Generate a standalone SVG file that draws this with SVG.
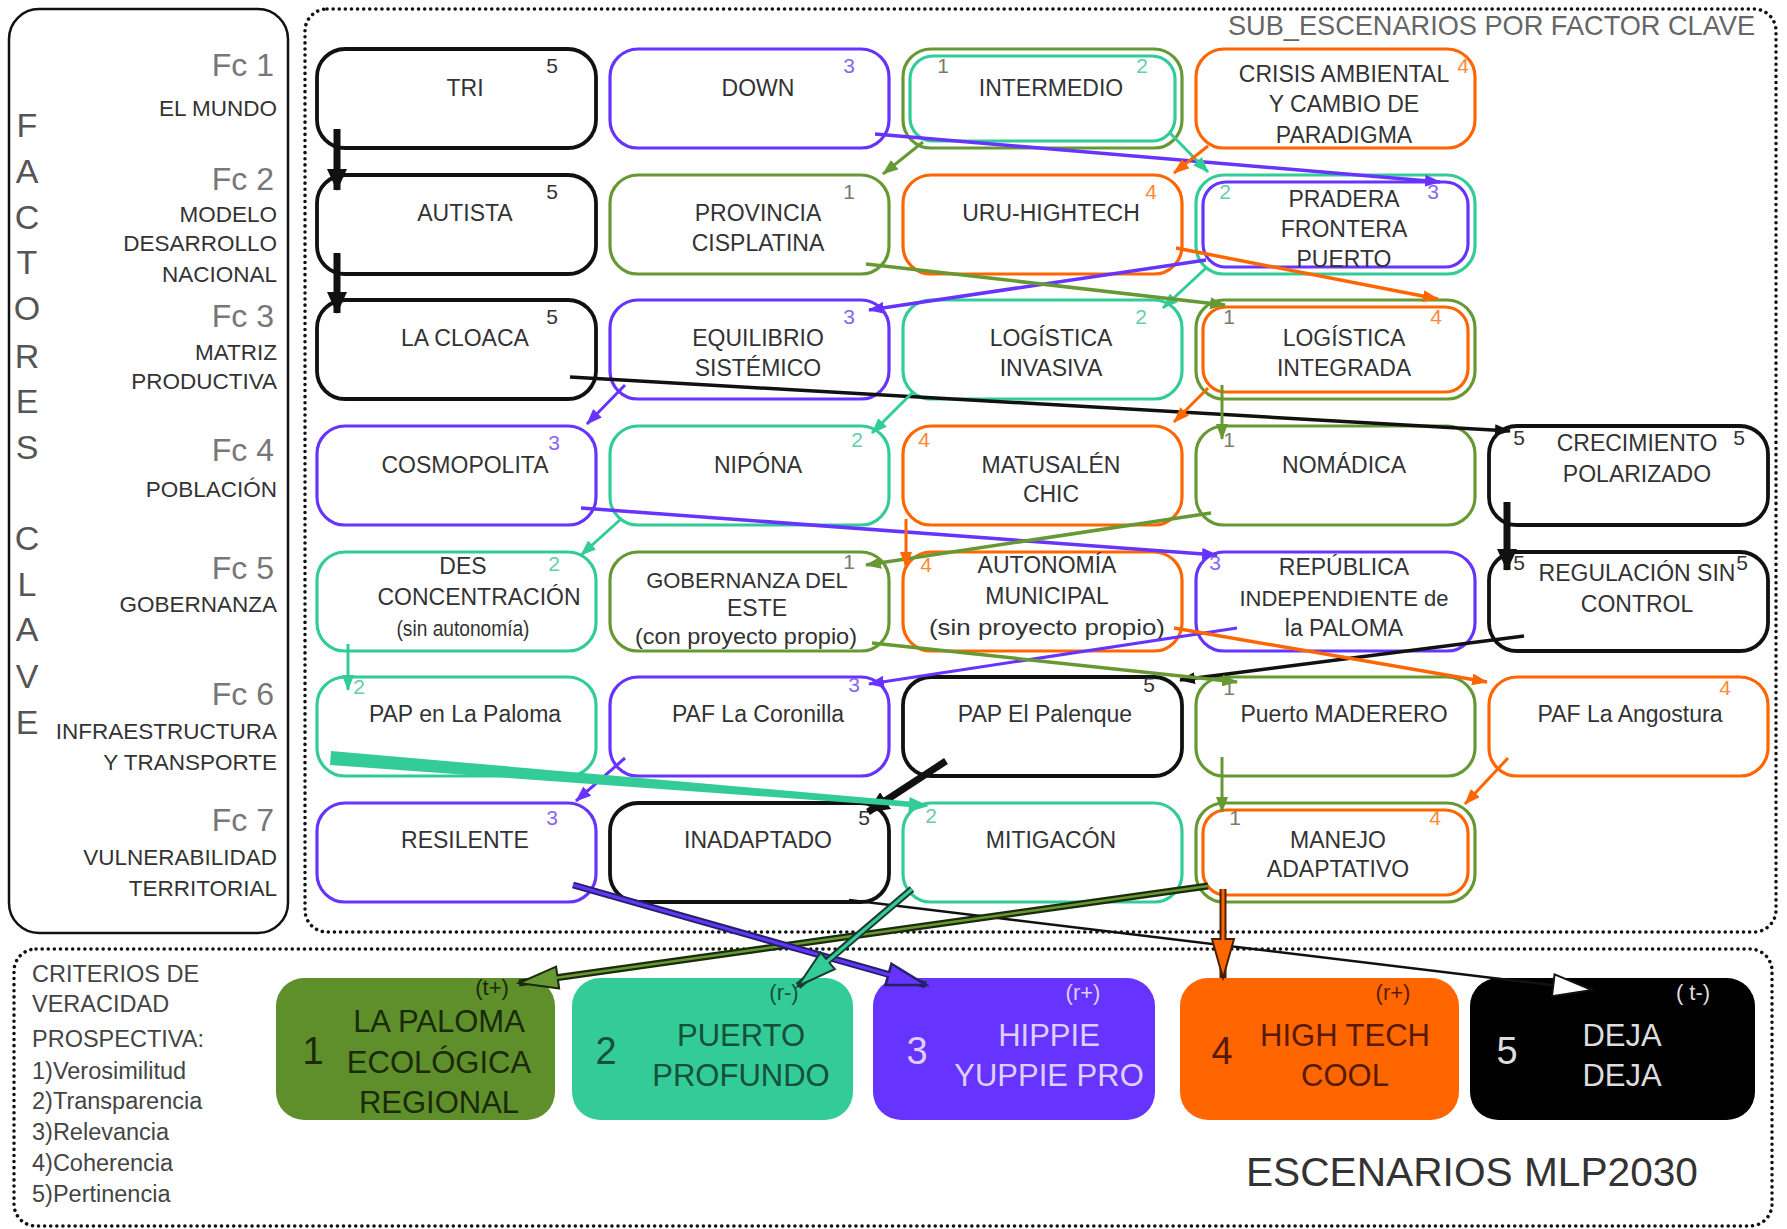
<svg xmlns="http://www.w3.org/2000/svg" width="1787" height="1229" viewBox="0 0 1787 1229">
<style>
text{font-family:"Liberation Sans","DejaVu Sans",sans-serif;fill:#333}
.bx{fill:#fff;stroke-width:3.2}
.k{stroke:#111;stroke-width:3.8}
.p{stroke:#6633ff}
.t{stroke:#33cc99}
.g{stroke:#669933}
.o{stroke:#ff6600}
.lbl{font-size:23px;text-anchor:middle}
.l22{font-size:22px}
.sm{font-size:22px;text-anchor:middle}
.n{font-size:21px;text-anchor:middle}
.nk{fill:#333}.np{fill:#8866ee}.nt{fill:#66ccb0}.ng{fill:#7a7a6a}.no{fill:#ff8833}
.fc{font-size:32px;text-anchor:end;fill:#777}
.fn{font-size:22.5px;text-anchor:end;fill:#333}
.vl{font-size:34px;text-anchor:middle;fill:#555}
.dot{fill:none;stroke:#111;stroke-width:3.5;stroke-dasharray:0.1 6;stroke-linecap:round}
.sc{font-size:31px;text-anchor:middle}
.sn{font-size:38px;text-anchor:middle}
.st{font-size:22px;text-anchor:middle}
.cr{font-size:23.5px;fill:#444}
</style>
<defs>
<marker id="ak" markerUnits="userSpaceOnUse" markerWidth="16" markerHeight="12" refX="15" refY="6" orient="auto"><path d="M0,0 L16,6 L0,12 z" fill="#111"/></marker>
<marker id="akb" markerUnits="userSpaceOnUse" markerWidth="22" markerHeight="20" refX="21" refY="10" orient="auto"><path d="M0,0 L22,10 L0,20 z" fill="#111"/></marker>
<marker id="ap" markerUnits="userSpaceOnUse" markerWidth="16" markerHeight="12" refX="15" refY="6" orient="auto"><path d="M0,0 L16,6 L0,12 z" fill="#6633ff"/></marker>
<marker id="at" markerUnits="userSpaceOnUse" markerWidth="16" markerHeight="12" refX="15" refY="6" orient="auto"><path d="M0,0 L16,6 L0,12 z" fill="#33cc99"/></marker>
<marker id="ag" markerUnits="userSpaceOnUse" markerWidth="16" markerHeight="12" refX="15" refY="6" orient="auto"><path d="M0,0 L16,6 L0,12 z" fill="#669933"/></marker>
<marker id="ao" markerUnits="userSpaceOnUse" markerWidth="16" markerHeight="12" refX="15" refY="6" orient="auto"><path d="M0,0 L16,6 L0,12 z" fill="#ff6600"/></marker>
<marker id="okk" markerUnits="userSpaceOnUse" markerWidth="44" markerHeight="26" refX="41" refY="13" orient="auto"><path d="M2,2 L41,13 L2,24 z" fill="#fff" stroke="#111" stroke-width="2"/></marker>
<marker id="okg" markerUnits="userSpaceOnUse" markerWidth="44" markerHeight="26" refX="41" refY="13" orient="auto"><path d="M2,2 L41,13 L2,24 z" fill="#669933" stroke="#1a2a0a" stroke-width="2"/></marker>
<marker id="okp" markerUnits="userSpaceOnUse" markerWidth="44" markerHeight="26" refX="41" refY="13" orient="auto"><path d="M2,2 L41,13 L2,24 z" fill="#6633ff" stroke="#222266" stroke-width="2.5"/></marker>
<marker id="okt" markerUnits="userSpaceOnUse" markerWidth="44" markerHeight="26" refX="41" refY="13" orient="auto"><path d="M2,2 L41,13 L2,24 z" fill="#33cc99" stroke="#1a3a30" stroke-width="2"/></marker>
<marker id="oko" markerUnits="userSpaceOnUse" markerWidth="44" markerHeight="26" refX="41" refY="13" orient="auto"><path d="M2,2 L41,13 L2,24 z" fill="#ff6600" stroke="#4a2000" stroke-width="2"/></marker>
</defs>
<rect width="1787" height="1229" fill="#fff"/>

<!-- frames -->
<g id="frame-left">
<rect x="9" y="9" width="279" height="924" rx="30" fill="none" stroke="#111" stroke-width="2.5"/>
<text class="vl" x="27" y="137">F</text>
<text class="vl" x="27" y="183">A</text>
<text class="vl" x="27" y="229">C</text>
<text class="vl" x="27" y="274">T</text>
<text class="vl" x="27" y="320">O</text>
<text class="vl" x="27" y="368">R</text>
<text class="vl" x="27" y="413">E</text>
<text class="vl" x="27" y="459">S</text>
<text class="vl" x="27" y="550">C</text>
<text class="vl" x="27" y="596">L</text>
<text class="vl" x="27" y="641">A</text>
<text class="vl" x="27" y="688">V</text>
<text class="vl" x="27" y="734">E</text>
<text class="fc" x="274" y="76">Fc 1</text>
<text class="fn" x="277" y="116">EL MUNDO</text>
<text class="fc" x="274" y="190">Fc 2</text>
<text class="fn" x="277" y="222">MODELO</text>
<text class="fn" x="277" y="251">DESARROLLO</text>
<text class="fn" x="277" y="282">NACIONAL</text>
<text class="fc" x="274" y="327">Fc 3</text>
<text class="fn" x="277" y="360">MATRIZ</text>
<text class="fn" x="277" y="389">PRODUCTIVA</text>
<text class="fc" x="274" y="461">Fc 4</text>
<text class="fn" x="277" y="497">POBLACIÓN</text>
<text class="fc" x="274" y="579">Fc 5</text>
<text class="fn" x="277" y="612">GOBERNANZA</text>
<text class="fc" x="274" y="705">Fc 6</text>
<text class="fn" x="277" y="739">INFRAESTRUCTURA</text>
<text class="fn" x="277" y="770">Y TRANSPORTE</text>
<text class="fc" x="274" y="831">Fc 7</text>
<text class="fn" x="277" y="865">VULNERABILIDAD</text>
<text class="fn" x="277" y="896">TERRITORIAL</text>
</g>
<g id="frame-sub">
<rect class="dot" x="305" y="9" width="1471" height="923" rx="22"/>
<text x="1228" y="35" font-size="28" style="fill:#666" textLength="527" lengthAdjust="spacingAndGlyphs">SUB_ESCENARIOS POR FACTOR CLAVE</text>
</g>
<g id="frame-esc">
<rect class="dot" x="14" y="949" width="1758" height="277" rx="22"/>
<text x="1246" y="1186" font-size="40" style="fill:#333" textLength="452" lengthAdjust="spacingAndGlyphs">ESCENARIOS MLP2030</text>
<text class="cr" x="32" y="982">CRITERIOS DE</text>
<text class="cr" x="32" y="1012">VERACIDAD</text>
<text class="cr" x="32" y="1047">PROSPECTIVA:</text>
<text class="cr" x="32" y="1079">1)Verosimilitud</text>
<text class="cr" x="32" y="1109">2)Transparencia</text>
<text class="cr" x="32" y="1140">3)Relevancia</text>
<text class="cr" x="32" y="1171">4)Coherencia</text>
<text class="cr" x="32" y="1202">5)Pertinencia</text>
</g>

<!-- Row 1 -->
<g id="n-tri"><rect class="bx k" x="317" y="49" width="279" height="99" rx="28"/><text class="lbl" x="465" y="96">TRI</text><text class="n nk" x="552" y="73">5</text></g>
<g id="n-down"><rect class="bx p" x="610" y="49" width="279" height="99" rx="28"/><text class="lbl" x="758" y="96">DOWN</text><text class="n np" x="849" y="73">3</text></g>
<g id="n-intermedio"><rect class="bx g" x="903" y="49" width="279" height="99" rx="28"/><rect class="bx t" x="910" y="56" width="265" height="85" rx="23"/><text class="lbl" x="1051" y="96">INTERMEDIO</text><text class="n ng" x="943" y="73">1</text><text class="n nt" x="1142" y="73">2</text></g>
<g id="n-crisis"><rect class="bx o" x="1196" y="49" width="279" height="99" rx="28"/><text class="lbl" x="1344" y="82">CRISIS AMBIENTAL</text><text class="lbl" x="1344" y="112">Y CAMBIO DE</text><text class="lbl" x="1344" y="143">PARADIGMA</text><text class="n no" x="1463" y="73">4</text></g>

<!-- Row 2 -->
<g id="n-autista"><rect class="bx k" x="317" y="175" width="279" height="99" rx="28"/><text class="lbl" x="465" y="221">AUTISTA</text><text class="n nk" x="552" y="199">5</text></g>
<g id="n-provincia"><rect class="bx g" x="610" y="175" width="279" height="99" rx="28"/><text class="lbl" x="758" y="221">PROVINCIA</text><text class="lbl" x="758" y="251">CISPLATINA</text><text class="n ng" x="849" y="199">1</text></g>
<g id="n-uru"><rect class="bx o" x="903" y="175" width="279" height="99" rx="28"/><text class="lbl" x="1051" y="221">URU-HIGHTECH</text><text class="n no" x="1151" y="199">4</text></g>
<g id="n-pradera"><rect class="bx t" x="1196" y="175" width="279" height="99" rx="28"/><rect class="bx p" x="1203" y="182" width="265" height="85" rx="23"/><text class="lbl" x="1344" y="207">PRADERA</text><text class="lbl" x="1344" y="237">FRONTERA</text><text class="lbl" x="1344" y="267">PUERTO</text><text class="n nt" x="1225" y="199">2</text><text class="n np" x="1433" y="199">3</text></g>

<!-- Row 3 -->
<g id="n-cloaca"><rect class="bx k" x="317" y="300" width="279" height="99" rx="28"/><text class="lbl" x="465" y="346">LA CLOACA</text><text class="n nk" x="552" y="324">5</text></g>
<g id="n-equilibrio"><rect class="bx p" x="610" y="300" width="279" height="99" rx="28"/><text class="lbl" x="758" y="346">EQUILIBRIO</text><text class="lbl" x="758" y="376">SISTÉMICO</text><text class="n np" x="849" y="324">3</text></g>
<g id="n-loginv"><rect class="bx t" x="903" y="300" width="279" height="99" rx="28"/><text class="lbl" x="1051" y="346">LOGÍSTICA</text><text class="lbl" x="1051" y="376">INVASIVA</text><text class="n nt" x="1141" y="324">2</text></g>
<g id="n-logint"><rect class="bx g" x="1196" y="300" width="279" height="99" rx="28"/><rect class="bx o" x="1203" y="307" width="265" height="85" rx="23"/><text class="lbl" x="1344" y="346">LOGÍSTICA</text><text class="lbl" x="1344" y="376">INTEGRADA</text><text class="n ng" x="1229" y="324">1</text><text class="n no" x="1436" y="324">4</text></g>

<!-- Row 4 -->
<g id="n-cosmopolita"><rect class="bx p" x="317" y="426" width="279" height="99" rx="28"/><text class="lbl" x="465" y="473">COSMOPOLITA</text><text class="n np" x="554" y="450">3</text></g>
<g id="n-nipona"><rect class="bx t" x="610" y="426" width="279" height="99" rx="28"/><text class="lbl" x="758" y="473">NIPÓNA</text><text class="n nt" x="857" y="447">2</text></g>
<g id="n-matusalen"><rect class="bx o" x="903" y="426" width="279" height="99" rx="28"/><text class="lbl" x="1051" y="473">MATUSALÉN</text><text class="lbl" x="1051" y="502">CHIC</text><text class="n no" x="924" y="447">4</text></g>
<g id="n-nomadica"><rect class="bx g" x="1196" y="426" width="279" height="99" rx="28"/><text class="lbl" x="1344" y="473">NOMÁDICA</text><text class="n ng" x="1229" y="447">1</text></g>
<g id="n-crecimiento"><rect class="bx k" x="1489" y="426" width="279" height="99" rx="28"/><text class="lbl" x="1637" y="451">CRECIMIENTO</text><text class="lbl" x="1637" y="482">POLARIZADO</text><text class="n nk" x="1519" y="445">5</text><text class="n nk" x="1739" y="445">5</text></g>

<!-- Row 5 -->
<g id="n-desconc"><rect class="bx t" x="317" y="552" width="279" height="99" rx="28"/><text class="lbl" x="463" y="574">DES</text><text class="lbl" x="479" y="605">CONCENTRACIÓN</text><text class="sm" x="463" y="636" textLength="133" lengthAdjust="spacingAndGlyphs">(sin autonomía)</text><text class="n nt" x="554" y="571">2</text></g>
<g id="n-gobernanza"><rect class="bx g" x="610" y="552" width="279" height="99" rx="28"/><text class="lbl l22" x="747" y="588">GOBERNANZA  DEL</text><text class="lbl" x="757" y="616">ESTE</text><text class="sm" x="746" y="644" textLength="222" lengthAdjust="spacingAndGlyphs">(con proyecto propio)</text><text class="n ng" x="849" y="569" font-size="16">1</text></g>
<g id="n-autonomia"><rect class="bx o" x="903" y="552" width="279" height="99" rx="28"/><text class="lbl" x="1047" y="573">AUTONOMÍA</text><text class="lbl" x="1047" y="604">MUNICIPAL</text><text class="sm" x="1047" y="635" textLength="236" lengthAdjust="spacingAndGlyphs">(sin proyecto propio)</text><text class="n no" x="926" y="572">4</text></g>
<g id="n-republica"><rect class="bx p" x="1196" y="552" width="279" height="99" rx="28"/><text class="lbl" x="1344" y="575">REPÚBLICA</text><text class="lbl l22" x="1344" y="606">INDEPENDIENTE de</text><text class="lbl" x="1344" y="636">la PALOMA</text><text class="n np" x="1215" y="570">3</text></g>
<g id="n-regulacion"><rect class="bx k" x="1489" y="552" width="279" height="99" rx="28"/><text class="lbl" x="1637" y="581">REGULACIÓN SIN</text><text class="lbl" x="1637" y="612">CONTROL</text><text class="n nk" x="1519" y="570">5</text><text class="n nk" x="1742" y="570">5</text></g>

<!-- Row 6 -->
<g id="n-pappaloma"><rect class="bx t" x="317" y="677" width="279" height="99" rx="28"/><text class="lbl" x="465" y="722">PAP en La Paloma</text><text class="n nt" x="359" y="694">2</text></g>
<g id="n-coronilla"><rect class="bx p" x="610" y="677" width="279" height="99" rx="28"/><text class="lbl" x="758" y="722">PAF La Coronilla</text><text class="n np" x="854" y="692">3</text></g>
<g id="n-palenque"><rect class="bx k" x="903" y="677" width="279" height="99" rx="28"/><text class="lbl" x="1045" y="722">PAP El Palenque</text><text class="n nk" x="1149" y="692">5</text></g>
<g id="n-maderero"><rect class="bx g" x="1196" y="677" width="279" height="99" rx="28"/><text class="lbl" x="1344" y="722">Puerto MADERERO</text><text class="n ng" x="1229" y="695">1</text></g>
<g id="n-angostura"><rect class="bx o" x="1489" y="677" width="279" height="99" rx="28"/><text class="lbl" x="1630" y="722">PAF La Angostura</text><text class="n no" x="1725" y="695">4</text></g>

<!-- Row 7 -->
<g id="n-resilente"><rect class="bx p" x="317" y="803" width="279" height="99" rx="28"/><text class="lbl" x="465" y="848">RESILENTE</text><text class="n np" x="552" y="825">3</text></g>
<g id="n-inadaptado"><rect class="bx k" x="610" y="803" width="279" height="99" rx="28"/><text class="lbl" x="758" y="848">INADAPTADO</text><text class="n nk" x="864" y="825">5</text></g>
<g id="n-mitigacon"><rect class="bx t" x="903" y="803" width="279" height="99" rx="28"/><text class="lbl" x="1051" y="848">MITIGACÓN</text><text class="n nt" x="931" y="823">2</text></g>
<g id="n-manejo"><rect class="bx g" x="1196" y="803" width="279" height="99" rx="28"/><rect class="bx o" x="1203" y="810" width="265" height="85" rx="23"/><text class="lbl" x="1338" y="848">MANEJO</text><text class="lbl" x="1338" y="877">ADAPTATIVO</text><text class="n ng" x="1235" y="825">1</text><text class="n no" x="1435" y="825">4</text></g>

<!-- Scenario boxes -->
<g id="e1"><rect x="276" y="978" width="279" height="142" rx="28" fill="#5f8f2a"/><text class="st" x="492" y="995" style="fill:#1a2a0a">(t+)</text><text class="sn" x="313" y="1064" style="fill:#1a2a0a">1</text><text class="sc" x="439" y="1032" style="fill:#1a2a0a">LA PALOMA</text><text class="sc" x="439" y="1073" style="fill:#1a2a0a">ECOLÓGICA</text><text class="sc" x="439" y="1113" style="fill:#1a2a0a">REGIONAL</text></g>
<g id="e2"><rect x="572" y="978" width="281" height="142" rx="28" fill="#33cc99"/><text class="st" x="784" y="1000" style="fill:#14503a">(r-)</text><text class="sn" x="606" y="1064" style="fill:#14503a">2</text><text class="sc" x="741" y="1046" style="fill:#14503a">PUERTO</text><text class="sc" x="741" y="1086" style="fill:#14503a">PROFUNDO</text></g>
<g id="e3"><rect x="873" y="978" width="282" height="142" rx="28" fill="#6633ff"/><text class="st" x="1083" y="1000" style="fill:#ddd0ff">(r+)</text><text class="sn" x="917" y="1064" style="fill:#ddd0ff">3</text><text class="sc" x="1049" y="1046" style="fill:#ddd0ff">HIPPIE</text><text class="sc" x="1049" y="1086" style="fill:#ddd0ff">YUPPIE PRO</text></g>
<g id="e4"><rect x="1180" y="978" width="279" height="142" rx="28" fill="#ff6600"/><text class="st" x="1393" y="1000" style="fill:#5a1a00">(r+)</text><text class="sn" x="1222" y="1064" style="fill:#5a1a00">4</text><text class="sc" x="1345" y="1046" style="fill:#5a1a00">HIGH TECH</text><text class="sc" x="1345" y="1086" style="fill:#5a1a00">COOL</text></g>
<g id="e5"><rect x="1470" y="978" width="285" height="142" rx="28" fill="#000"/><text class="st" x="1693" y="1000" style="fill:#ddd">( t-)</text><text class="sn" x="1507" y="1064" style="fill:#ddd">5</text><text class="sc" x="1622" y="1046" style="fill:#ddd">DEJA</text><text class="sc" x="1622" y="1086" style="fill:#ddd">DEJA</text></g>

<!-- Connectors -->
<g id="connectors" fill="none">
<!-- black -->
<line x1="337" y1="129" x2="337" y2="190" stroke="#111" stroke-width="7" marker-end="url(#akb)"/>
<line x1="337" y1="253" x2="337" y2="313" stroke="#111" stroke-width="7" marker-end="url(#akb)"/>
<line x1="570" y1="377" x2="1510" y2="431" stroke="#111" stroke-width="3.5" marker-end="url(#ak)"/>
<line x1="1507" y1="502" x2="1507" y2="570" stroke="#111" stroke-width="7" marker-end="url(#akb)"/>
<line x1="1524" y1="636" x2="1180" y2="680" stroke="#111" stroke-width="3.5" marker-end="url(#ak)"/>
<line x1="946" y1="761" x2="868" y2="812" stroke="#111" stroke-width="7" marker-end="url(#akb)"/>
<!-- purple -->
<line x1="875" y1="134" x2="1440" y2="182" stroke="#6633ff" stroke-width="3.5" marker-end="url(#ap)"/>
<line x1="1206" y1="260" x2="869" y2="310" stroke="#6633ff" stroke-width="3.5" marker-end="url(#ap)"/>
<line x1="625" y1="385" x2="587" y2="424" stroke="#6633ff" stroke-width="3" marker-end="url(#ap)"/>
<line x1="581" y1="508" x2="1217" y2="555" stroke="#6633ff" stroke-width="3.5" marker-end="url(#ap)"/>
<line x1="1237" y1="628" x2="869" y2="684" stroke="#6633ff" stroke-width="3" marker-end="url(#ap)"/>
<line x1="625" y1="758" x2="576" y2="801" stroke="#6633ff" stroke-width="3" marker-end="url(#ap)"/>
<!-- teal -->
<line x1="1170" y1="133" x2="1208" y2="172" stroke="#33cc99" stroke-width="3" marker-end="url(#at)"/>
<line x1="1206" y1="268" x2="1163" y2="308" stroke="#33cc99" stroke-width="3" marker-end="url(#at)"/>
<line x1="912" y1="393" x2="872" y2="433" stroke="#33cc99" stroke-width="3" marker-end="url(#at)"/>
<line x1="621" y1="519" x2="581" y2="555" stroke="#33cc99" stroke-width="3" marker-end="url(#at)"/>
<line x1="348" y1="644" x2="348" y2="690" stroke="#33cc99" stroke-width="3" marker-end="url(#at)"/>
<polygon points="331,751 910,801.5 910,807 330,765" fill="#33cc99"/>
<polygon points="929,806 909.6,797 908.4,812" fill="#33cc99"/>
<!-- green -->
<line x1="923" y1="142" x2="883" y2="174" stroke="#669933" stroke-width="3" marker-end="url(#ag)"/>
<line x1="866" y1="264" x2="1225" y2="305" stroke="#669933" stroke-width="3.5" marker-end="url(#ag)"/>
<line x1="1222" y1="385" x2="1222" y2="439" stroke="#669933" stroke-width="3" marker-end="url(#ag)"/>
<line x1="1211" y1="513" x2="866" y2="565" stroke="#669933" stroke-width="3.5" marker-end="url(#ag)"/>
<line x1="872" y1="643" x2="1237" y2="682" stroke="#669933" stroke-width="3.5" marker-end="url(#ag)"/>
<line x1="1222" y1="757" x2="1222" y2="812" stroke="#669933" stroke-width="3" marker-end="url(#ag)"/>
<!-- orange -->
<line x1="1208" y1="146" x2="1174" y2="173" stroke="#ff6600" stroke-width="3" marker-end="url(#ao)"/>
<line x1="1176" y1="248" x2="1438" y2="299" stroke="#ff6600" stroke-width="3.5" marker-end="url(#ao)"/>
<line x1="1208" y1="388" x2="1174" y2="422" stroke="#ff6600" stroke-width="3" marker-end="url(#ao)"/>
<line x1="906" y1="519" x2="906" y2="567" stroke="#ff6600" stroke-width="3" marker-end="url(#ao)"/>
<line x1="1174" y1="628" x2="1487" y2="682" stroke="#ff6600" stroke-width="3.5" marker-end="url(#ao)"/>
<line x1="1508" y1="758" x2="1465" y2="804" stroke="#ff6600" stroke-width="3" marker-end="url(#ao)"/>
<!-- to scenarios -->
<line x1="849" y1="900" x2="1592" y2="990" stroke="#111" stroke-width="2.5" marker-end="url(#okk)"/>
<line x1="1208" y1="886" x2="519" y2="983" stroke="#1a2a0a" stroke-width="7" marker-end="url(#okg)"/>
<line x1="1208" y1="886" x2="555" y2="978" stroke="#669933" stroke-width="2.5"/>
<line x1="573" y1="885" x2="926" y2="985" stroke="#222266" stroke-width="7" marker-end="url(#okp)"/>
<line x1="573" y1="885" x2="890" y2="975" stroke="#6633ff" stroke-width="3"/>
<line x1="912" y1="889" x2="798" y2="986" stroke="#1a3a30" stroke-width="7" marker-end="url(#okt)"/>
<line x1="912" y1="889" x2="823" y2="965" stroke="#33cc99" stroke-width="3"/>
<line x1="1223" y1="889" x2="1223" y2="978" stroke="#4a2000" stroke-width="7" marker-end="url(#oko)"/>
<line x1="1223" y1="889" x2="1223" y2="945" stroke="#ff6600" stroke-width="3"/>
</g>
</svg>
